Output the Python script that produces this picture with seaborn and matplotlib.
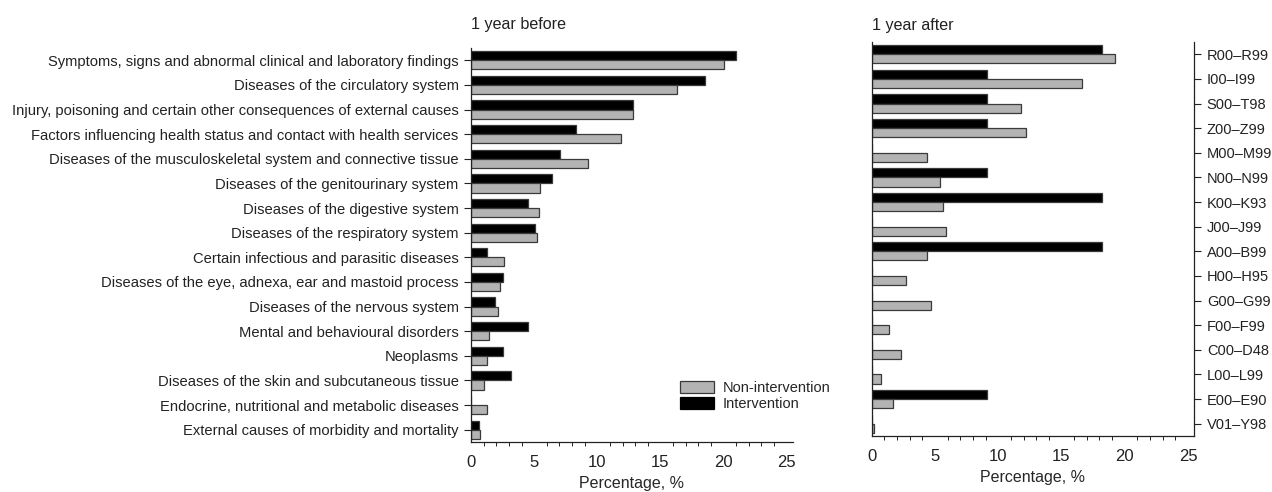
import matplotlib
matplotlib.use("Agg")
import matplotlib.pyplot as plt
from matplotlib.patches import Patch
from matplotlib.ticker import MultipleLocator
import seaborn as sns
import pandas as pd

# ICD-10 chapters, ordered by share of diagnoses
chapters = [
    "Symptoms, signs and abnormal clinical and laboratory findings",
    "Diseases of the circulatory system",
    "Injury, poisoning and certain other consequences of external causes",
    "Factors influencing health status and contact with health services",
    "Diseases of the musculoskeletal system and connective tissue",
    "Diseases of the genitourinary system",
    "Diseases of the digestive system",
    "Diseases of the respiratory system",
    "Certain infectious and parasitic diseases",
    "Diseases of the eye, adnexa, ear and mastoid process",
    "Diseases of the nervous system",
    "Mental and behavioural disorders",
    "Neoplasms",
    "Diseases of the skin and subcutaneous tissue",
    "Endocrine, nutritional and metabolic diseases",
    "External causes of morbidity and mortality",
]
codes = [
    "R00–R99", "I00–I99", "S00–T98", "Z00–Z99", "M00–M99", "N00–N99",
    "K00–K93", "J00–J99", "A00–B99", "H00–H95", "G00–G99", "F00–F99",
    "C00–D48", "L00–L99", "E00–E90", "V01–Y98",
]

# Percentages, 1 year before
before_non = [20.0, 16.3, 12.8, 11.9, 9.3, 5.5, 5.4, 5.2, 2.6, 2.3, 2.1, 1.4, 1.3, 1.05, 1.3, 0.7]
before_int = [21.0, 18.5, 12.8, 8.3, 7.05, 6.4, 4.5, 5.1, 1.3, 2.55, 1.9, 4.5, 2.55, 3.2, 0.0, 0.64]

# Percentages, 1 year after
after_non = [19.2, 16.6, 11.8, 12.2, 4.4, 5.4, 5.6, 5.9, 4.4, 2.7, 4.7, 1.4, 2.3, 0.76, 1.65, 0.15]
after_int = [18.18, 9.09, 9.09, 9.09, 0.0, 9.09, 18.18, 0.0, 18.18, 0.0, 0.0, 0.0, 0.0, 0.0, 9.09, 0.0]

groups = ["Intervention", "Non-intervention"]
colors = {"Intervention": "#000000", "Non-intervention": "#b3b3b3"}


def long_frame(labels, non, inter):
    return pd.DataFrame({
        "label": labels * 2,
        "pct": inter + non,
        "group": ["Intervention"] * len(labels) + ["Non-intervention"] * len(labels),
    })


sns.set_style("white")
plt.rcParams["font.family"] = ["Liberation Sans", "DejaVu Sans"]
plt.rcParams["font.size"] = 10.5

fig = plt.figure(figsize=(12.72, 4.92), dpi=100)
ax1 = fig.add_axes([0.3703, 0.1016, 0.2531, 0.8008])
ax2 = fig.add_axes([0.6853, 0.1138, 0.2536, 0.8008])

for ax, labels, non, inter, ylab in [
    (ax1, chapters, before_non, before_int, 10.6),
    (ax2, codes, after_non, after_int, 10.5),
]:
    df = long_frame(labels, non, inter)
    sns.barplot(
        data=df, x="pct", y="label", hue="group", hue_order=groups,
        order=labels, palette=colors, orient="h", width=0.74, gap=0,
        edgecolor="#3a3a3a", linewidth=0.9, saturation=1, ax=ax, legend=False,
    )
    ax.set_xlim(0, 25.5)
    ax.set_ylim(15.5, -0.5)
    ax.xaxis.set_major_locator(MultipleLocator(5))
    ax.xaxis.set_minor_locator(MultipleLocator(1))
    ax.set_xlabel("Percentage, %", fontsize=11.5, labelpad=5)
    ax.set_ylabel("")
    ax.spines["top"].set_visible(False)
    for s in ax.spines.values():
        s.set_color("#222222")
        s.set_linewidth(0.9)
    ax.tick_params(axis="x", which="major", direction="out", length=5, width=0.8,
                   colors="#222222", labelsize=12, labelcolor="#222222", pad=4)
    ax.tick_params(axis="x", which="minor", direction="out", length=3, width=0.7,
                   colors="#222222", bottom=True)
    ax.tick_params(axis="y", direction="out", length=5, width=0.8, colors="#222222",
                   labelsize=ylab, labelcolor="#222222", pad=4)

ax1.spines["right"].set_visible(False)
ax1.yaxis.tick_left()
ax2.yaxis.tick_right()
ax2.yaxis.set_label_position("right")
ax2.tick_params(axis="y", left=False, right=True, labelleft=False, labelright=True)

ax1.set_title("1 year before", loc="left", fontsize=11.6, pad=14, color="#222222")
ax2.set_title("1 year after", loc="left", fontsize=11.6, pad=9, color="#222222")

handles = [
    Patch(facecolor=colors["Non-intervention"], edgecolor="#3a3a3a", linewidth=0.9),
    Patch(facecolor=colors["Intervention"], edgecolor="#000000", linewidth=0.9),
]
ax1.legend(handles, ["Non-intervention", "Intervention"], loc="upper left",
           bbox_to_anchor=(0.63, 0.17), frameon=False, fontsize=10.5,
           handlelength=2.35, handleheight=0.9, handletextpad=0.6,
           labelspacing=0.15, borderaxespad=0)

fig.savefig("out.png", dpi=100)
